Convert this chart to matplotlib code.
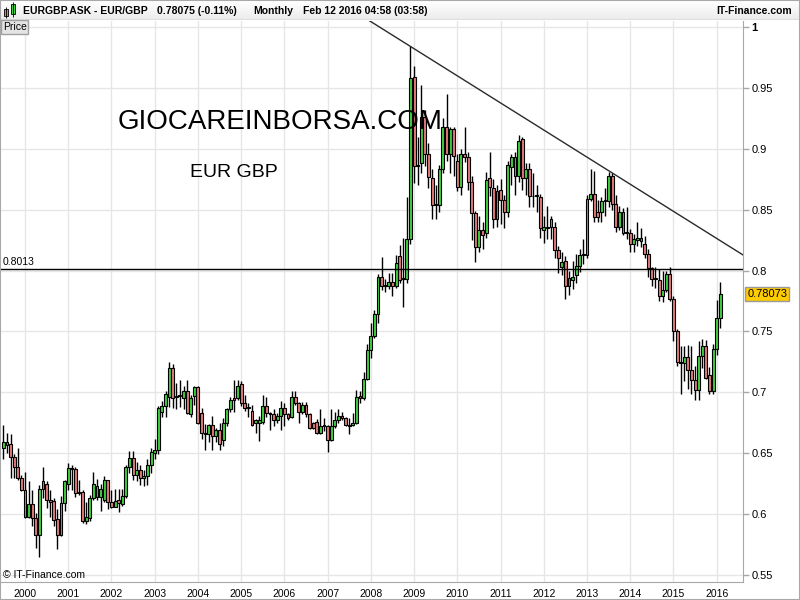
import matplotlib
matplotlib.use('Agg')
import matplotlib.pyplot as plt
import matplotlib.transforms as mtransforms
from matplotlib.patches import Rectangle
import numpy as np
import pandas as pd

plt.rcParams['font.family'] = ['Liberation Sans', 'DejaVu Sans']

# monthly EUR/GBP candles, first one is Jul 1999
start_month = '1999-07'
opens = [
    .654, .659, .658, .647, .639, .630,
    .620, .598, .608, .597, .583, .621, .625, .612, .611, .596, .583, .609,
    .625, .638, .637, .618, .618, .594, .597, .613, .623, .614, .612, .628,
    .610, .606, .612, .608, .615, .639, .646, .632, .636, .630, .631, .640,
    .650, .653, .684, .689, .696, .720, .697, .697, .695, .701, .682, .697,
    .704, .683, .667, .666, .673, .664, .669, .661, .675, .686, .695, .695,
    .707, .691, .687, .685, .675, .675, .676, .689, .683, .682, .677, .681,
    .687, .682, .680, .696, .691, .684, .690, .682, .675, .676, .667, .672,
    .672, .661, .672, .677, .681, .679, .673, .673, .675, .697, .695, .711,
    .735, .746, .764, .795, .787, .787, .791, .787, .812, .793, .793, .826,
    .959, .886, .888, .926, .896, .876, .854, .854, .883, .918, .896, .916,
    .890, .869, .896, .893, .873, .847, .819, .833, .831, .876, .868, .842,
    .866, .858, .848, .885, .893, .878, .908, .876, .883, .861, .862, .860,
    .833, .836, .842, .836, .817, .803, .808, .787, .792, .796, .804, .814,
    .813, .859, .863, .848, .848, .857, .857, .878, .855, .836, .848, .831,
    .831, .822, .825, .827, .822, .814, .802, .793, .792, .779, .784, .797,
    .777, .750, .725, .724, .729, .718, .710, .702, .730, .738, .714, .701,
    .736, .761,
]
highs = [
    .673, .667, .666, .649, .654, .632,
    .635, .627, .620, .601, .624, .639, .627, .620, .613, .604, .615, .628,
    .642, .640, .639, .628, .620, .610, .616, .635, .629, .625, .631, .628,
    .620, .621, .621, .621, .640, .652, .652, .643, .640, .636, .645, .654,
    .662, .689, .693, .701, .725, .723, .708, .710, .705, .710, .698, .705,
    .705, .687, .674, .674, .681, .671, .675, .679, .687, .696, .710, .710,
    .709, .698, .691, .690, .678, .681, .698, .696, .684, .686, .683, .693,
    .691, .683, .701, .701, .692, .692, .692, .683, .676, .678, .686, .679,
    .673, .686, .684, .686, .684, .680, .679, .683, .702, .701, .717, .740,
    .757, .768, .797, .811, .793, .798, .798, .813, .821, .827, .860, .984,
    .968, .910, .952, .932, .905, .883, .870, .887, .925, .945, .918, .918,
    .896, .900, .918, .897, .878, .849, .845, .840, .881, .897, .875, .870,
    .875, .862, .890, .896, .897, .911, .910, .888, .888, .880, .870, .863,
    .845, .853, .845, .840, .820, .815, .812, .800, .808, .814, .818, .826,
    .862, .883, .882, .858, .860, .868, .881, .880, .862, .853, .851, .852,
    .834, .830, .840, .835, .828, .818, .803, .803, .801, .800, .800, .803,
    .779, .752, .738, .738, .739, .738, .722, .742, .744, .743, .721, .740,
    .776, .791,
]
lows = [
    .645, .650, .630, .630, .628, .619,
    .597, .597, .590, .572, .565, .613, .605, .598, .590, .571, .582, .603,
    .620, .620, .614, .616, .593, .592, .594, .612, .612, .603, .610, .604,
    .605, .606, .602, .607, .613, .634, .628, .627, .624, .623, .624, .634,
    .645, .649, .680, .680, .688, .687, .686, .688, .686, .682, .680, .690,
    .674, .662, .653, .659, .653, .659, .653, .656, .672, .684, .684, .694,
    .689, .685, .680, .672, .667, .660, .674, .680, .669, .672, .675, .669,
    .672, .677, .679, .690, .675, .682, .680, .670, .670, .666, .666, .668,
    .651, .660, .671, .675, .677, .672, .666, .672, .674, .691, .694, .710,
    .728, .745, .757, .784, .782, .785, .779, .786, .790, .770, .790, .822,
    .872, .870, .880, .886, .868, .842, .842, .848, .880, .890, .880, .878,
    .865, .862, .889, .866, .825, .807, .815, .818, .827, .861, .835, .836,
    .838, .835, .844, .870, .862, .873, .866, .862, .852, .852, .848, .827,
    .823, .826, .826, .810, .798, .796, .777, .780, .785, .790, .799, .805,
    .810, .857, .840, .840, .840, .845, .852, .850, .832, .833, .829, .826,
    .815, .815, .820, .819, .810, .795, .787, .786, .775, .774, .782, .775,
    .742, .722, .699, .709, .703, .699, .694, .694, .720, .711, .699, .699,
    .731, .753,
]
closes = [
    .659, .657, .647, .639, .630, .620,
    .598, .608, .597, .583, .621, .627, .612, .610, .595, .583, .609, .627,
    .638, .637, .617, .617, .594, .598, .613, .625, .614, .621, .628, .610,
    .606, .611, .609, .615, .639, .646, .632, .636, .630, .631, .640, .651,
    .653, .687, .689, .699, .720, .695, .696, .697, .701, .683, .695, .704,
    .675, .667, .666, .673, .664, .669, .658, .675, .686, .694, .694, .705,
    .691, .687, .687, .673, .677, .677, .689, .683, .682, .677, .681, .687,
    .682, .679, .696, .691, .684, .690, .682, .671, .671, .667, .672, .673,
    .661, .672, .677, .681, .679, .673, .672, .675, .696, .695, .711, .735,
    .746, .764, .795, .787, .788, .791, .787, .806, .792, .793, .826, .958,
    .886, .887, .926, .896, .877, .854, .855, .883, .918, .896, .916, .894,
    .869, .896, .893, .873, .847, .819, .833, .829, .874, .869, .842, .865,
    .858, .848, .887, .893, .878, .906, .876, .883, .861, .861, .861, .835,
    .836, .835, .836, .817, .810, .807, .787, .794, .795, .804, .813, .813,
    .859, .863, .844, .844, .857, .857, .878, .855, .836, .848, .831, .832,
    .822, .826, .827, .824, .814, .802, .793, .793, .779, .784, .797, .777,
    .750, .725, .724, .729, .718, .710, .702, .730, .738, .712, .701, .736,
    .761, .7807,
]

support_level = 0.8013
last_price = 0.78073
trend_months = ['2008-12', '2013-07']
trend_prices = [0.984, 0.882]
y_ticks = [0.55, 0.60, 0.65, 0.70, 0.75, 0.80, 0.85, 0.90, 0.95, 1.00]
y_tick_labels = ['0.55', '0.6', '0.65', '0.7', '0.75', '0.8', '0.85', '0.9', '0.95', '1']

months = pd.period_range(start_month, periods=len(closes), freq='M')
idx = np.arange(len(months))
o = np.array(opens)
h = np.array(highs)
l = np.array(lows)
c = np.array(closes)

green = '#3fd23f'
red = '#e47c7c'
grid_col = '#e6e6e6'
frame_col = '#a8a8a8'

fig = plt.figure(figsize=(8, 6), dpi=100)
ax = fig.add_axes([0.0, 0.03, 743 / 800, 0.935])

# candles
ax.vlines(idx, l, h, color='black', lw=1, zorder=3)
body_low = np.minimum(o, c)
body_h = np.maximum(np.abs(c - o), 0.0006)
cols = np.where(c >= o, green, red)
ax.bar(idx, body_h, bottom=body_low, width=0.8, color=cols,
       edgecolor='black', linewidth=0.8, zorder=4)

ax.set_xlim(-0.94, 205.3)
ax.set_ylim(0.5443, 1.0049)

# x axis: years at January
jan = [i for i, m in enumerate(months) if m.month == 1]
ax.set_xticks(jan)
ax.set_xticklabels([str(months[i].year) for i in jan], fontsize=7.5)
ax.tick_params(axis='x', length=0, pad=5)

ax.yaxis.tick_right()
ax.set_yticks(y_ticks)
ax.set_yticklabels(y_tick_labels, fontsize=8)
ax.get_yticklabels()[-1].set_fontweight('bold')
ax.tick_params(axis='y', length=4, width=1, color=frame_col, pad=2)

ax.grid(True, color=grid_col, lw=1)
ax.set_axisbelow(True)
for s in ['left', 'top']:
    ax.spines[s].set_visible(False)
for s in ['right', 'bottom']:
    ax.spines[s].set_color(frame_col)

# support line
ax.axhline(support_level, color='black', lw=1, zorder=5)
ax.text(0.004, support_level + 0.002, '%.4f' % support_level, fontsize=7.5,
        transform=mtransforms.blended_transform_factory(ax.transAxes, ax.transData),
        va='bottom', ha='left')

# trend line through the two highs
t_idx = [months.get_loc(pd.Period(m, freq='M')) for m in trend_months]
slope = (trend_prices[1] - trend_prices[0]) / (t_idx[1] - t_idx[0])
xl = np.array(ax.get_xlim())
ax.plot(xl, trend_prices[0] + slope * (xl - t_idx[0]), color='#2a2a2a', lw=1, zorder=5)

# last price tag
ax.text(1.006, last_price, '%.5f' % last_price, fontsize=8,
        transform=mtransforms.blended_transform_factory(ax.transAxes, ax.transData),
        va='center', ha='left', clip_on=False, zorder=6,
        bbox=dict(boxstyle='square,pad=0.18', fc='#ffcc00', ec='#999999', lw=1))

# watermark texts
fig.text(118 / 800, 1 - 129 / 600, 'GIOCAREINBORSA.COM', fontsize=20, va='baseline', ha='left')
fig.text(190 / 800, 1 - 177 / 600, 'EUR GBP', fontsize=14, va='baseline', ha='left')
ax.text(0.004, 0.0125, '\u00a9 IT-Finance.com', fontsize=7.5, transform=ax.transAxes,
        va='center', ha='left')

# Price box
fig.text(3 / 800, 1 - 27 / 600, 'Price', fontsize=7.5, va='center', ha='left',
         bbox=dict(boxstyle='square,pad=0.15', fc='#e4e4e4', ec='#a0a0a0', lw=1))

# header bar
hax = fig.add_axes([0, 1 - 20 / 600, 1, 20 / 600])
grad = np.linspace(1.0, 0.92, 20).reshape(-1, 1)
hax.imshow(grad, aspect='auto', cmap='gray', vmin=0, vmax=1, extent=[0, 800, 0, 20])
hax.set_xlim(0, 800)
hax.set_ylim(0, 20)
hax.axis('off')
hax.add_patch(Rectangle((4, 4), 4, 7, fc=red, ec='black', lw=0.6))
hax.vlines([6], 2, 13, color='black', lw=0.6)
hax.add_patch(Rectangle((11, 6), 4, 10, fc=green, ec='black', lw=0.6))
hax.vlines([13], 3, 18, color='black', lw=0.6)
head_y = 9
hax.text(23, head_y, 'EURGBP.ASK - EUR/GBP', fontsize=7.5, fontweight='bold', va='center')
hax.text(157, head_y, '0.78075 (-0.11%)', fontsize=7.5, fontweight='bold', va='center')
hax.text(253, head_y, 'Monthly', fontsize=7.5, fontweight='bold', va='center')
hax.text(303, head_y, 'Feb 12 2016 04:58 (03:58)', fontsize=7.5, fontweight='bold', va='center')
hax.text(792, head_y, 'IT-Finance.com', fontsize=7.5, fontweight='bold', va='center', ha='right')
hax.axhline(0.3, color=frame_col, lw=1)

fig.patches.append(Rectangle((0, 0), 1, 1, transform=fig.transFigure, fill=False,
                             ec=frame_col, lw=1.5))

fig.savefig('out.png', dpi=100)
